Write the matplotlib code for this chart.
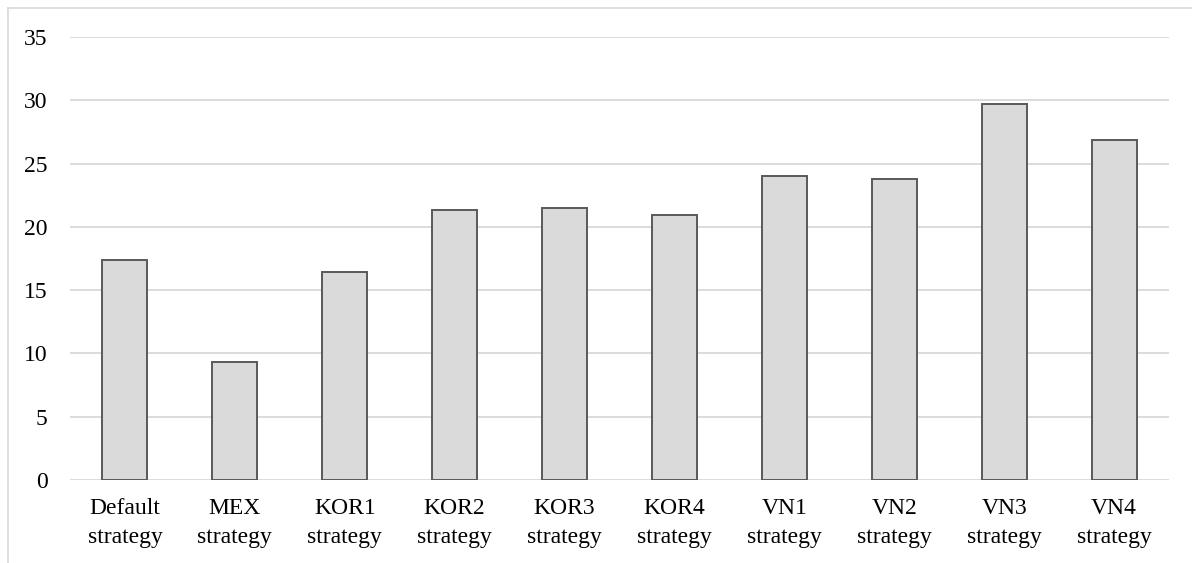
import numpy as np
import matplotlib.pyplot as plt
from matplotlib.lines import Line2D

strategies = ["Default\nstrategy", "MEX\nstrategy", "KOR1\nstrategy", "KOR2\nstrategy",
              "KOR3\nstrategy", "KOR4\nstrategy", "VN1\nstrategy", "VN2\nstrategy",
              "VN3\nstrategy", "VN4\nstrategy"]
values = [17.4, 9.3, 16.4, 21.3, 21.5, 20.9, 24.0, 23.8, 29.7, 26.9]
yticks = [0, 5, 10, 15, 20, 25, 30, 35]

plt.rcParams['font.family'] = ['Liberation Serif', 'DejaVu Serif']

fig = plt.figure(figsize=(11.92, 5.63), dpi=100)
ax = fig.add_axes([70 / 1192, 83 / 563, 1099 / 1192, 443 / 563])

x = np.arange(len(values))
ax.bar(x, values, width=0.41, color='#dadada', edgecolor='#595959', linewidth=1.4, zorder=3)

ax.set_xlim(-0.5, len(values) - 0.5)
ax.set_ylim(0, 35)
ax.set_yticks(yticks)
ax.set_xticks(x)
ax.set_xticklabels(strategies, linespacing=1.5)
ax.tick_params(axis='both', length=0, labelsize=17, colors='black')
ax.tick_params(axis='y', pad=16)
ax.tick_params(axis='x', pad=13)
ax.grid(axis='y', color='#d9d9d9', linewidth=1.3, zorder=0)
for s in ax.spines.values():
    s.set_visible(False)

# outer chart frame (left and top edges)
fig.add_artist(Line2D([8 / 1192, 8 / 1192], [0, 1 - 8 / 563], transform=fig.transFigure,
                      color='#d9d9d9', linewidth=1.2))
fig.add_artist(Line2D([8 / 1192, 1], [1 - 8 / 563, 1 - 8 / 563], transform=fig.transFigure,
                      color='#d9d9d9', linewidth=1.2))

fig.savefig('out.png', dpi=100)
